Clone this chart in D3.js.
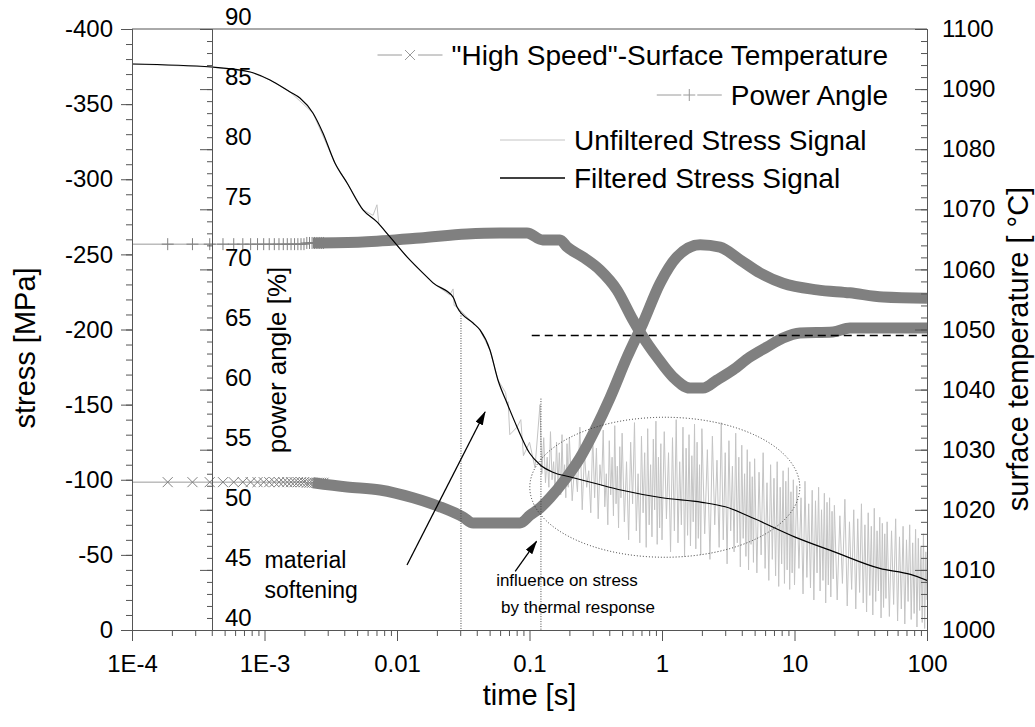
<!DOCTYPE html>
<html>
<head>
<meta charset="utf-8">
<script src="https://cdn.jsdelivr.net/npm/d3@7"></script>
<style>
  body { margin: 0; background: #fff; }
  text { font-family: Arial, "Liberation Sans", sans-serif; fill: #000; }
</style>
</head>
<body>
<div id="chart"></div>
<script>
// ---- axis ticks ----
const xTickValues = [1e-4, 1e-3, 0.01, 0.1, 1, 10, 100];
const xTickLabels = ["1E-4", "1E-3", "0.01", "0.1", "1", "10", "100"];
const stressTicks = [0, -50, -100, -150, -200, -250, -300, -350, -400];
const powerTicks = [40, 45, 50, 55, 60, 65, 70, 75, 80, 85, 90];
const tempTicks = [1000, 1010, 1020, 1030, 1040, 1050, 1060, 1070, 1080, 1090, 1100];

// ---- sparse samples at the start (markers still separated) ----
const sampleTime = [8.6e-5, 1.86e-4, 2.86e-4, 3.86e-4, 4.86e-4, 5.86e-4, 6.86e-4, 7.86e-4, 8.86e-4, 9.86e-4,
  1.086e-3, 1.186e-3, 1.286e-3, 1.386e-3, 1.486e-3, 1.586e-3, 1.686e-3, 1.786e-3, 1.886e-3, 1.986e-3,
  2.086e-3, 2.186e-3, 2.286e-3, 2.386e-3, 2.486e-3, 2.586e-3, 2.686e-3, 2.786e-3];
const sampleTemp = [1024.6, 1024.6, 1024.6, 1024.6, 1024.6, 1024.6, 1024.6, 1024.6, 1024.6, 1024.6,
  1024.6, 1024.6, 1024.6, 1024.6, 1024.6, 1024.6, 1024.6, 1024.6, 1024.6, 1024.6,
  1024.5, 1024.5, 1024.5, 1024.5, 1024.5, 1024.5, 1024.5, 1024.5];
const samplePower = [72.1, 72.1, 72.1, 72.1, 72.1, 72.1, 72.1, 72.1, 72.1, 72.1,
  72.1, 72.1, 72.1, 72.1, 72.1, 72.1, 72.1, 72.1, 72.1, 72.1,
  72.2, 72.2, 72.2, 72.2, 72.2, 72.2, 72.2, 72.2];

// ---- "High Speed" surface temperature [°C] ----
const tempTime = [2.32e-3, 4.2e-3, 7.44e-3, 1.32e-2, 2.11e-2, 3.15e-2, 3.75e-2, 8.48e-2, 0.101, 0.12,
  0.143, 0.185, 0.24, 0.312, 0.405, 0.545, 0.719, 0.967, 1.3, 1.94,
  2.74, 3.88, 5.5, 8.19, 14.8, 26.2, 46.6, 100];
const tempValue = [1024.5, 1023.8, 1023.3, 1022.0, 1020.5, 1018.8, 1017.8, 1017.8, 1019.1, 1020.3,
  1022.0, 1025.0, 1028.6, 1033.3, 1038.6, 1045.4, 1051.1, 1057.7, 1062.1, 1064.1,
  1063.7, 1061.6, 1059.4, 1057.7, 1056.6, 1056.1, 1055.4, 1055.2];

// ---- power angle [%] ----
const powerTime = [2.32e-3, 5.5e-3, 1.49e-2, 3.37e-2, 5.98e-2, 9.57e-2, 0.126, 0.17, 0.192, 0.253,
  0.34, 0.457, 0.604, 0.719, 0.917, 1.21, 1.63, 2.04, 2.6, 3.43,
  4.61, 6.2, 8.19, 11.0, 19.5, 26.2, 100];
const powerValue = [72.2, 72.28, 72.61, 72.95, 73.03, 73.03, 72.45, 72.45, 71.87, 71.03,
  69.95, 68.29, 65.79, 64.38, 62.71, 61.05, 60.13, 60.13, 60.8, 61.63,
  62.71, 63.54, 64.29, 64.71, 64.79, 65.12, 65.12];

// ---- filtered stress [MPa] ----
const filteredTime = [1e-4, 4e-4, 7.8e-4, 1.1e-3, 1.56e-3, 1.85e-3, 2.32e-3, 2.76e-3, 3.4e-3, 4.2e-3,
  5.54e-3, 7.06e-3, 8.85e-3, 1.19e-2, 1.68e-2, 1.87e-2, 2.65e-2, 2.84e-2, 3.75e-2, 4.23e-2,
  5.03e-2, 5.78e-2, 6.76e-2, 8.05e-2, 0.1, 0.12, 0.15, 0.2, 0.3, 0.5,
  1, 2, 3, 5, 10, 20, 44, 75, 100];
const filteredStress = [-376.7, -374.7, -371.4, -366.1, -358.1, -354.1, -344.1, -330.8, -310.8, -297.5,
  -279.6, -271.6, -261.6, -248.3, -235, -231, -221.6, -215, -204.3, -199.7,
  -186.4, -166.4, -151.1, -135.1, -117.8, -110, -105, -102, -98, -93,
  -88, -85, -82, -74, -62, -52, -41, -37, -33];

// ---- unfiltered stress [MPa]: early part with a few spikes ----
const rawEarlyTime = [1e-4, 4e-4, 7.8e-4, 1.1e-3, 1.56e-3, 2.32e-3, 3.4e-3, 4.2e-3, 5.54e-3, 6.6e-3,
  7.06e-3, 7.3e-3, 8.85e-3, 1.19e-2, 1.68e-2, 1.87e-2, 2.5e-2, 2.65e-2, 2.7e-2, 2.84e-2,
  3.75e-2, 4.23e-2, 5.03e-2, 5.78e-2, 6.6e-2, 6.76e-2, 6.9e-2, 7.1e-2, 8.05e-2, 8.6e-2,
  9.0e-2, 0.1, 0.11];
const rawEarlyStress = [-376.7, -374.7, -371.4, -366.1, -358.1, -344.1, -310.8, -297.5, -279.6, -276,
  -283, -270, -261.6, -248.3, -235, -231, -223, -227, -216, -215,
  -204.3, -199.7, -186.4, -166.4, -158, -151, -152, -130, -135, -140,
  -116, -125, -108];

// ---- unfiltered stress: noisy part after 0.12 s ----
const rawNoiseTime = [
  0.120, 0.124, 0.128, 0.132, 0.136, 0.140, 0.144, 0.148, 0.152, 0.156,
  0.160, 0.164, 0.168, 0.172, 0.176, 0.180, 0.184, 0.188, 0.192, 0.196,
  0.20, 0.21, 0.22, 0.23, 0.24, 0.25, 0.26, 0.27, 0.28, 0.29,
  0.30, 0.31, 0.32, 0.33, 0.34, 0.35, 0.36, 0.37, 0.38, 0.39,
  0.40, 0.41, 0.42, 0.43, 0.44, 0.45, 0.46, 0.47, 0.48, 0.49,
  0.50, 0.52, 0.54, 0.56, 0.58, 0.60, 0.62, 0.64, 0.66, 0.68,
  0.70, 0.72, 0.74, 0.76, 0.78, 0.80, 0.82, 0.84, 0.86, 0.88,
  0.90, 0.92, 0.94, 0.96, 0.98,
  1.00, 1.04, 1.08, 1.12, 1.16, 1.20, 1.24, 1.28, 1.32, 1.36,
  1.40, 1.44, 1.48, 1.52, 1.56, 1.60, 1.64, 1.68, 1.72, 1.76,
  1.80, 1.84, 1.88, 1.92, 1.96,
  2.0, 2.1, 2.2, 2.3, 2.4, 2.5, 2.6, 2.7, 2.8, 2.9,
  3.0, 3.1, 3.2, 3.3, 3.4, 3.5, 3.6, 3.7, 3.8, 3.9,
  4.0, 4.1, 4.2, 4.3, 4.4, 4.5, 4.6, 4.7, 4.8, 4.9,
  5.0, 5.2, 5.4, 5.6, 5.8, 6.0, 6.2, 6.4, 6.6, 6.8,
  7.0, 7.2, 7.4, 7.6, 7.8, 8.0, 8.2, 8.4, 8.6, 8.8,
  9.0, 9.2, 9.4, 9.6, 9.8,
  10, 10.4, 10.8, 11.2, 11.6, 12.0, 12.4, 12.8, 13.2, 13.6,
  14.0, 14.4, 14.8, 15.2, 15.6, 16.0, 16.4, 16.8, 17.2, 17.6,
  18.0, 18.4, 18.8, 19.2, 19.6,
  20, 21, 22, 23, 24, 25, 26, 27, 28, 29,
  30, 31, 32, 33, 34, 35, 36, 37, 38, 39,
  40, 41, 42, 43, 44, 45, 46, 47, 48, 49,
  50, 52, 54, 56, 58, 60, 62, 64, 66, 68,
  70, 72, 74, 76, 78, 80, 82, 84, 86, 88,
  90, 92, 94, 96, 98, 100];
const rawNoiseStress = [
  -150, -104, -128, -98, -115, -95, -132, -100, -112, -92,
  -125, -97, -118, -90, -130, -96, -110, -88, -124, -95,
  -128, -86, -112, -92, -135, -80, -118, -95, -106, -78,
  -130, -88, -121, -74, -110, -96, -133, -82, -104, -70,
  -126, -90, -115, -76, -136, -84, -109, -68, -122, -88,
  -131, -72, -112, -60, -125, -84, -138, -66, -104, -58,
  -129, -78, -118, -55, -134, -70, -110, -62, -127, -80,
  -139, -57, -115, -68, -124,
  -60, -132, -74, -118, -52, -128, -66, -140, -58, -112,
  -70, -135, -49, -121, -63, -130, -56, -116, -72, -137,
  -54, -125, -61, -110, -50,
  -134, -64, -120, -47, -129, -70, -113, -55, -138, -60,
  -118, -44, -126, -66, -109, -52, -131, -58, -115, -42,
  -123, -61, -104, -49, -120, -40, -112, -57, -102, -45,
  -114, -38, -105, -50, -118, -41, -98, -33, -110, -47,
  -101, -36, -112, -29, -95, -44, -106, -31, -99, -40,
  -108, -27, -92, -38, -100,
  -30, -96, -41, -88, -24, -99, -35, -84, -28, -93,
  -20, -86, -38, -95, -26, -80, -33, -91, -18, -85,
  -30, -88, -22, -79, -34,
  -83, -20, -76, -31, -87, -16, -72, -27, -80, -14,
  -74, -25, -84, -18, -70, -12, -78, -23, -69, -10,
  -81, -19, -66, -26, -75, -8, -71, -15, -64, -21,
  -72, -9, -66, -17, -74, -6, -62, -14, -69, -4,
  -60, -19, -70, -7, -58, -11, -67, -2, -61, -13,
  -56, -5, -64, -1, -52, -20];

// ---- reference lines and annotations (data coordinates) ----
const dropTime = [0.0304, 0.122];      // dotted vertical markers
const dropTop = [-211, -154];
const targetPower = 64.5;               // dashed level
const targetStart = 0.104;

// ---------------------------------------------------------------
const W = 1035, H = 727;
const margin = { top: 29, right: 108, bottom: 97, left: 132 };
const width = W - margin.left - margin.right;
const height = H - margin.top - margin.bottom;
const axisColor = "#555";
const bandColor = "#808080";
const lightMarker = "#9a9a9a";
const rawColor = "#c4c4c4";

const svg = d3.select("#chart").append("svg")
  .attr("width", W).attr("height", H);

const g = svg.append("g").attr("transform", `translate(${margin.left},${margin.top})`);

const x = d3.scaleLog().domain([1e-4, 100]).range([0, width]);
const yS = d3.scaleLinear().domain([0, -400]).range([height, 0]);
const yP = d3.scaleLinear().domain([40, 90]).range([height, 0]);
const yT = d3.scaleLinear().domain([1000, 1100]).range([height, 0]);

const defs = svg.append("defs");
defs.append("clipPath").attr("id", "plot-clip")
  .append("rect").attr("width", width).attr("height", height);

const zip = (a, b) => a.slice(0, Math.min(a.length, b.length)).map((t, i) => ({ t, v: b[i] }));

const samplesT = zip(sampleTime, sampleTemp);
const samplesP = zip(sampleTime, samplePower);
const tempData = zip(tempTime, tempValue);
const powerData = zip(powerTime, powerValue);
const filtered = zip(filteredTime, filteredStress);
const raw = zip(rawEarlyTime, rawEarlyStress).concat(zip(rawNoiseTime, rawNoiseStress));

const plot = g.append("g").attr("clip-path", "url(#plot-clip)");

// unfiltered stress
plot.append("path")
  .datum(raw)
  .attr("fill", "none")
  .attr("stroke", rawColor)
  .attr("stroke-width", 1)
  .attr("d", d3.line().x(d => x(d.t)).y(d => yS(d.v)));

// thick marker bands
function band(data, samples, yScale, symbol) {
  const thin = samples.concat(data.filter(d => d.t > samples[samples.length - 1].t));
  plot.append("path")
    .datum(thin)
    .attr("fill", "none")
    .attr("stroke", lightMarker)
    .attr("stroke-width", 1)
    .attr("d", d3.line().x(d => x(d.t)).y(d => yScale(d.v)).curve(d3.curveMonotoneX));

  plot.selectAll(null)
    .data(samples)
    .join("path")
    .attr("transform", d => `translate(${x(d.t)},${yScale(d.v)})`)
    .attr("d", symbol)
    .attr("fill", "none")
    .attr("stroke", bandColor)
    .attr("stroke-width", 1);

  plot.append("path")
    .datum(data)
    .attr("fill", "none")
    .attr("stroke", bandColor)
    .attr("stroke-width", 11)
    .attr("stroke-linejoin", "round")
    .attr("d", d3.line().x(d => x(d.t)).y(d => yScale(d.v)).curve(d3.curveMonotoneX));
}
const crossSym = "M-5,-5L5,5M-5,5L5,-5";
const plusSym = "M-6,0H6M0,-6V6";
band(tempData, samplesT, yT, crossSym);
band(powerData, samplesP, yP, plusSym);

// dashed target level
plot.append("line")
  .attr("x1", x(targetStart)).attr("x2", width)
  .attr("y1", yP(targetPower)).attr("y2", yP(targetPower))
  .attr("stroke", "#000").attr("stroke-width", 1.5)
  .attr("stroke-dasharray", "8,5");

// dotted vertical markers
dropTime.forEach((t, i) => {
  plot.append("line")
    .attr("x1", x(t)).attr("x2", x(t))
    .attr("y1", yS(dropTop[i])).attr("y2", height)
    .attr("stroke", "#444").attr("stroke-width", 1)
    .attr("stroke-dasharray", "1,1.5");
});

// filtered stress
plot.append("path")
  .datum(filtered)
  .attr("fill", "none")
  .attr("stroke", "#000")
  .attr("stroke-width", 1.2)
  .attr("d", d3.line().x(d => x(d.t)).y(d => yS(d.v)).curve(d3.curveMonotoneX));

// ---- axes ----
function tidy(sel, size) {
  sel.attr("font-size", size).attr("font-family", null);
  sel.select(".domain").attr("stroke", axisColor);
  sel.selectAll(".tick line").attr("stroke", axisColor);
  sel.selectAll(".tick text").attr("fill", "#000");
}

// frame top
g.append("line").attr("x1", 0).attr("x2", width).attr("y1", 0).attr("y2", 0)
  .attr("stroke", axisColor);

// bottom
const xMinor = [];
xTickValues.slice(0, -1).forEach(v => { for (let k = 2; k < 10; k++) xMinor.push(v * k); });
g.append("g").attr("transform", `translate(0,${height})`)
  .call(d3.axisBottom(x).tickValues(xMinor).tickSize(6).tickFormat(""))
  .call(s => tidy(s, 24));
g.append("g").attr("transform", `translate(0,${height})`)
  .call(d3.axisBottom(x).tickValues(xTickValues).tickSize(11).tickPadding(14)
    .tickFormat((d, i) => xTickLabels[i]))
  .call(s => tidy(s, 24));

// left stress
g.append("g")
  .call(d3.axisLeft(yS).tickValues(d3.range(-400, 1, 10)).tickSize(6).tickFormat(""))
  .call(s => tidy(s, 24));
g.append("g")
  .call(d3.axisLeft(yS).tickValues(stressTicks).tickSize(11).tickPadding(8).tickFormat(d => String(d)))
  .call(s => tidy(s, 24));

// power angle axis (inside the frame)
const powerAxisX = 80;
const pa = g.append("g").attr("transform", `translate(${powerAxisX},0)`);
pa.append("g")
  .call(d3.axisLeft(yP).tickValues(d3.range(40, 91, 1)).tickSize(5).tickFormat(""))
  .call(s => tidy(s, 24));
pa.append("g")
  .call(d3.axisLeft(yP).tickValues(powerTicks).tickSize(12).tickFormat(""))
  .call(s => tidy(s, 24));
pa.append("g")
  .call(d3.axisRight(yP).tickValues(powerTicks).tickSize(0).tickPadding(13).tickFormat(d => String(d)))
  .call(s => tidy(s, 24))
  .call(s => s.select(".domain").remove())
  .call(s => s.selectAll(".tick text").attr("dy", "-0.18em"));

// right temperature axis
const ra = g.append("g").attr("transform", `translate(${width},0)`);
ra.append("g")
  .call(d3.axisRight(yT).tickValues(d3.range(1000, 1101, 2)).tickSize(-6).tickFormat(""))
  .call(s => tidy(s, 24));
ra.append("g")
  .call(d3.axisRight(yT).tickValues(tempTicks).tickSize(-12).tickPadding(15).tickFormat(d => String(d)))
  .call(s => tidy(s, 24));

// ---- axis titles ----
svg.append("text")
  .attr("transform", "translate(25,348) rotate(-90)")
  .attr("text-anchor", "middle").attr("dominant-baseline", "central")
  .attr("font-size", 29).text("stress [MPa]");
svg.append("text")
  .attr("transform", "translate(277,360) rotate(-90)")
  .attr("text-anchor", "middle").attr("dominant-baseline", "central")
  .attr("font-size", 26).text("power angle [%]");
svg.append("text")
  .attr("transform", "translate(1018,349) rotate(-90)")
  .attr("text-anchor", "middle").attr("dominant-baseline", "central")
  .attr("font-size", 29).text("surface temperature [ °C]");
svg.append("text")
  .attr("x", margin.left + width / 2).attr("y", 705)
  .attr("text-anchor", "middle")
  .attr("font-size", 29).text("time [s]");

// ---- legend ----
const legend = svg.append("g");
const legendRows = [
  { label: "\"High Speed\"-Surface Temperature", y: 55, anchor: "end", x: 888, kind: "cross" },
  { label: "Power Angle", y: 95, anchor: "end", x: 888, kind: "plus" },
  { label: "Unfiltered Stress Signal", y: 140, anchor: "start", x: 574, kind: "raw" },
  { label: "Filtered Stress Signal", y: 178, anchor: "start", x: 574, kind: "filtered" }
];
legendRows.forEach(r => {
  const t = legend.append("text")
    .attr("x", r.x).attr("y", r.y)
    .attr("dy", "0.35em")
    .attr("text-anchor", r.anchor)
    .attr("font-size", 28)
    .text(r.label);
  const left = t.node().getBBox().x;
  const x2 = left - 9, x1 = x2 - 65;
  if (r.kind === "cross" || r.kind === "plus") {
    legend.append("line").attr("x1", x1).attr("x2", x2).attr("y1", r.y).attr("y2", r.y)
      .attr("stroke", lightMarker).attr("stroke-width", 1);
    legend.append("rect").attr("x", (x1 + x2) / 2 - 8).attr("y", r.y - 8)
      .attr("width", 16).attr("height", 16).attr("fill", "#fff");
    legend.append("path")
      .attr("transform", `translate(${(x1 + x2) / 2},${r.y})`)
      .attr("d", r.kind === "cross" ? crossSym : plusSym)
      .attr("fill", "none").attr("stroke", lightMarker).attr("stroke-width", 1);
  } else {
    legend.append("line").attr("x1", x1).attr("x2", x2).attr("y1", r.y).attr("y2", r.y)
      .attr("stroke", r.kind === "raw" ? rawColor : "#000")
      .attr("stroke-width", r.kind === "raw" ? 1 : 1.3);
  }
});

// ---- annotations ----
defs.append("marker")
  .attr("id", "head")
  .attr("viewBox", "0 0 14 8")
  .attr("refX", 13).attr("refY", 4)
  .attr("markerWidth", 14).attr("markerHeight", 8)
  .attr("markerUnits", "userSpaceOnUse")
  .attr("orient", "auto")
  .append("path").attr("d", "M0,0L14,4L0,8z").attr("fill", "#000");

const ann = g.append("g");
ann.append("line")
  .attr("x1", x(0.0119)).attr("y1", yS(-43.3))
  .attr("x2", x(0.0462)).attr("y2", yS(-145.1))
  .attr("stroke", "#000").attr("stroke-width", 1.3)
  .attr("marker-end", "url(#head)");
ann.append("text").attr("x", x(1.0e-3)).attr("y", yS(-41)).attr("font-size", 23).text("material");
ann.append("text").attr("x", x(1.0e-3)).attr("y", yS(-21)).attr("font-size", 23).text("softening");

ann.append("ellipse")
  .attr("cx", x(1.05)).attr("cy", yS(-95))
  .attr("rx", 135).attr("ry", 70)
  .attr("fill", "none").attr("stroke", "#333").attr("stroke-width", 1)
  .attr("stroke-dasharray", "1,2");
ann.append("line")
  .attr("x1", x(0.078)).attr("y1", yS(-39))
  .attr("x2", x(0.113)).attr("y2", yS(-59))
  .attr("stroke", "#000").attr("stroke-width", 1.3)
  .attr("marker-end", "url(#head)");
ann.append("text").attr("x", x(0.056)).attr("y", yS(-29)).attr("font-size", 17).text("influence on stress");
ann.append("text").attr("x", x(0.061)).attr("y", yS(-11)).attr("font-size", 17).text("by thermal response");
</script>
</body>
</html>
